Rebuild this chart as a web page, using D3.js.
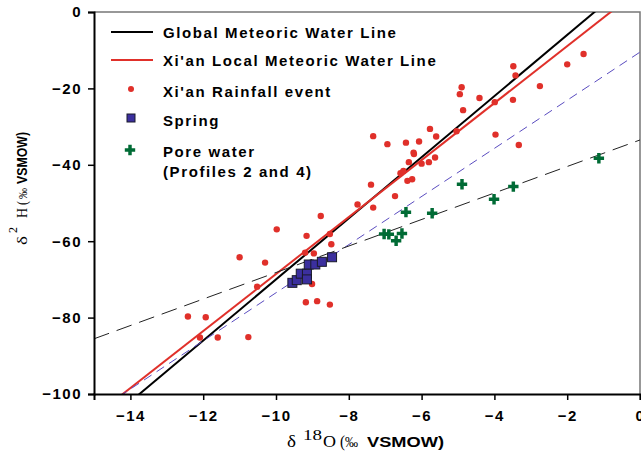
<!DOCTYPE html>
<html>
<head>
<meta charset="utf-8">
<script src="https://cdn.jsdelivr.net/npm/d3@7"></script>
<style>
  body { margin: 0; background: #fff; }
  text { font-family: Arial, "Liberation Sans", sans-serif; }
</style>
</head>
<body>
<svg id="chart" width="641" height="455"></svg>
<script>
// rainfall events [d18O, d2H]
const rainfall = [
  [-1.55, -11.0], [-2.0, -13.7], [-3.48, -14.2], [-3.42, -16.6], [-2.75, -19.4],
  [-4.9, -19.7], [-4.95, -21.5], [-4.41, -22.5], [-3.49, -23.0], [-3.99, -23.6],
  [-4.86, -25.7], [-5.77, -30.6], [-7.33, -32.5], [-5.6, -32.6], [-5.04, -31.2],
  [-3.97, -32.1], [-6.94, -34.6], [-6.43, -34.2], [-6.07, -33.9], [-3.33, -34.8],
  [-6.22, -36.8], [-6.21, -37.2], [-5.63, -38.1], [-6.35, -39.3], [-6.0, -39.7],
  [-5.8, -39.3], [-6.58, -42.2], [-6.5, -41.6], [-6.39, -44.2], [-6.26, -43.8],
  [-7.39, -45.2], [-7.76, -50.4], [-6.73, -48.2], [-7.33, -51.2], [-8.77, -53.4],
  [-9.98, -56.9], [-9.16, -58.6], [-11.0, -64.2], [-10.3, -65.6], [-9.2, -63.0],
  [-8.96, -63.2], [-10.52, -71.9], [-9.01, -71.2], [-12.42, -79.7], [-11.93, -79.9],
  [-12.09, -85.2], [-11.6, -85.2], [-10.76, -85.1], [-9.18, -76.0], [-8.87, -75.7],
  [-8.52, -58.1], [-8.48, -60.8], [-8.52, -76.6]
];

const spring = [
  [-9.55, -70.9], [-9.43, -70.2], [-9.32, -68.5], [-9.15, -68.5], [-9.15, -70.0],
  [-9.1, -66.1], [-8.92, -66.1], [-8.74, -65.4], [-8.46, -64.2]
];

const poreWater = [
  [-6.43, -52.4], [-5.71, -52.7], [-4.89, -45.1], [-4.01, -49.0], [-3.48, -45.7],
  [-1.13, -38.3], [-7.03, -58.1], [-6.9, -58.2], [-6.7, -59.9], [-6.54, -58.0]
];

// regression lines: d2H = slope * d18O + intercept
const lines = [
  { name: "gmwl", slope: 8, intercept: 10, color: "#000", width: 2, dash: null },
  { name: "lmwl", slope: 7.46, intercept: 6, color: "#e0302a", width: 2, dash: null },
  { name: "spring", slope: 6.3, intercept: -10.5, color: "#5a4cc0", width: 1, dash: "9,6" },
  { name: "pore", slope: 3.47, intercept: -33.5, color: "#222", width: 1, dash: "16,8" }
];

const xTicks = [-14, -12, -10, -8, -6, -4, -2, 0];
const yTicks = [0, -20, -40, -60, -80, -100];

const legendItems = [
  { type: "line", color: "#000", label: ["Global Meteoric Water Line"] },
  { type: "line", color: "#e0302a", label: ["Xi'an Local Meteoric Water Line"] },
  { type: "dot", label: ["Xi'an Rainfall event"] },
  { type: "square", label: ["Spring"] },
  { type: "cross", label: ["Pore water", "(Profiles 2 and 4)"] }
];

const pLeft = 94, pRight = 640, pTop = 12, pBottom = 394;
const red = "#e0302a", blue = "#3b2f9e", green = "#006b35";
const serif = "'Liberation Serif', 'Times New Roman', serif";

const svg = d3.select("#chart");

const x = d3.scaleLinear().domain([-15, 0]).range([pLeft, pRight]);
const y = d3.scaleLinear().domain([-100, 0]).range([pBottom, pTop]);

svg.append("clipPath").attr("id", "plot")
  .append("rect")
  .attr("x", pLeft).attr("y", pTop)
  .attr("width", pRight - pLeft).attr("height", pBottom - pTop);

// frame (top and right in grey)
svg.append("path")
  .attr("d", `M${pLeft},${pTop}H${pRight}V${pBottom}`)
  .attr("fill", "none")
  .attr("stroke", "#777")
  .attr("stroke-width", 1.5);

// lines
const lineGen = d3.line().x(d => x(d[0])).y(d => y(d[1]));
svg.append("g").attr("clip-path", "url(#plot)")
  .selectAll("path")
  .data(lines)
  .enter().append("path")
  .attr("d", d => lineGen([[-15, d.slope * -15 + d.intercept], [0, d.intercept]]))
  .attr("fill", "none")
  .attr("stroke", d => d.color)
  .attr("stroke-width", d => d.width)
  .attr("stroke-dasharray", d => d.dash);

// axes
const xAxis = svg.append("g")
  .attr("transform", "translate(0," + pBottom + ")")
  .call(d3.axisBottom(x).tickValues(xTicks).tickSize(6).tickPadding(5).tickFormat(d3.format("d")));
const yAxis = svg.append("g")
  .attr("transform", "translate(" + pLeft + ",0)")
  .call(d3.axisLeft(y).tickValues(yTicks).tickSize(6).tickPadding(6).tickFormat(d3.format("d")));

[xAxis, yAxis].forEach(a => {
  a.select(".domain").attr("stroke", "#000").attr("stroke-width", 2);
  a.selectAll(".tick line").attr("stroke", "#000").attr("stroke-width", 1.5);
  a.selectAll(".tick text")
    .attr("fill", "#000")
    .style("font-size", "15px")
    .style("font-weight", "bold")
    .style("letter-spacing", "1.5px")
    .style("font-family", "Arial, 'Liberation Sans', sans-serif");
});
xAxis.selectAll(".tick text").attr("dy", "1.05em");

// points
svg.append("g").selectAll("circle")
  .data(rainfall)
  .enter().append("circle")
  .attr("cx", d => x(d[0]))
  .attr("cy", d => y(d[1]))
  .attr("r", 3.2)
  .attr("fill", red);

svg.append("g").selectAll("rect")
  .data(spring)
  .enter().append("rect")
  .attr("x", d => x(d[0]) - 4.5)
  .attr("y", d => y(d[1]) - 4.5)
  .attr("width", 9)
  .attr("height", 9)
  .attr("fill", blue)
  .attr("stroke", "#1a1a2a")
  .attr("stroke-width", 1);

const cross = d3.symbol().type(d3.symbolCross).size(60);
svg.append("g").selectAll("path")
  .data(poreWater)
  .enter().append("path")
  .attr("d", cross)
  .attr("transform", d => "translate(" + x(d[0]) + "," + y(d[1]) + ")")
  .attr("fill", green);

// legend
const markRows = [32, 60, 89, 118, 150];
const textRows = [38, 66, 97, 126, 157];
const legend = svg.append("g");
legendItems.forEach((item, i) => {
  const yy = markRows[i];
  if (item.type === "line") {
    legend.append("line")
      .attr("x1", 111).attr("x2", 153).attr("y1", yy).attr("y2", yy)
      .attr("stroke", item.color).attr("stroke-width", 2);
  } else if (item.type === "dot") {
    legend.append("circle").attr("cx", 131).attr("cy", yy).attr("r", 3).attr("fill", red);
  } else if (item.type === "square") {
    legend.append("rect").attr("x", 127).attr("y", yy - 4).attr("width", 8).attr("height", 8)
      .attr("fill", blue).attr("stroke", "#1a1a2a");
  } else {
    legend.append("path").attr("d", cross).attr("transform", "translate(130," + yy + ")").attr("fill", green);
  }
  const t = legend.append("text")
    .attr("x", 163).attr("y", textRows[i])
    .style("font-size", "15px")
    .style("font-weight", "bold")
    .style("letter-spacing", "1.6px");
  item.label.forEach((s, j) => {
    t.append("tspan").attr("x", 163).attr("dy", j === 0 ? 0 : 20).text(s);
  });
});

// axis titles, built from pieces (serif delta symbols + bold sans unit)
function titlePieces(g, parts) {
  parts.forEach(p => {
    const t = g.append("text")
      .attr("x", p.at).attr("y", p.dy || 0)
      .attr("textLength", p.len).attr("lengthAdjust", "spacingAndGlyphs")
      .style("font-size", p.size + "px")
      .style("font-family", p.bold ? null : serif)
      .style("font-weight", p.bold ? "bold" : "normal")
      .attr("fill", "#000")
      .text(p.t);
  });
}

const xTitle = svg.append("g").attr("transform", "translate(0,447)");
titlePieces(xTitle, [
  { t: "δ", at: 287, len: 9, size: 16 },
  { t: "18", at: 303, len: 19, size: 14, dy: -7 },
  { t: "O", at: 323, len: 13, size: 16 },
  { t: "(", at: 340, len: 5, size: 16 },
  { t: "‰", at: 345, len: 13, size: 14 },
  { t: "VSMOW)", at: 367, len: 77, size: 15, bold: true }
]);

const yTitle = svg.append("g").attr("transform", "translate(27,0) rotate(-90)");
titlePieces(yTitle, [
  { t: "δ", at: -245, len: 9, size: 15 },
  { t: "2", at: -233, len: 6, size: 13, dy: -10 },
  { t: "H", at: -218, len: 10, size: 15 },
  { t: "(", at: -205, len: 4, size: 15 },
  { t: "‰", at: -199, len: 11, size: 13 },
  { t: "VSMOW)", at: -184, len: 52, size: 15, bold: true }
]);
</script>
</body>
</html>
